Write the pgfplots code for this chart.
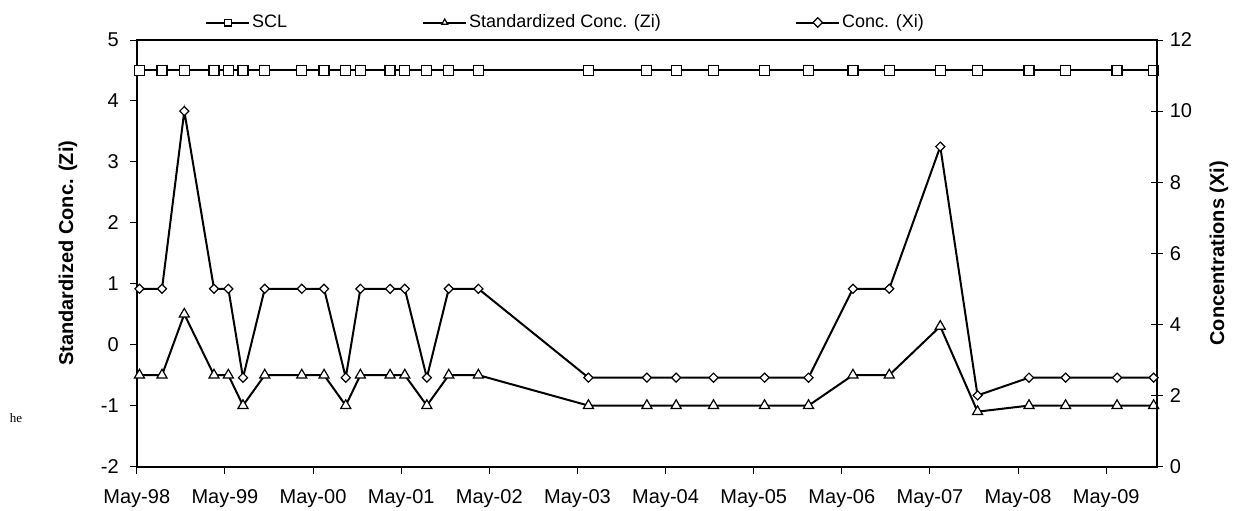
\documentclass[border=0pt]{standalone}
\usepackage{fontspec}
\setmainfont{Liberation Sans}
\newfontfamily\serifx{Liberation Serif}
\usepackage{pgfplots}
\usepackage{pgfplotstable}
\pgfplotsset{compat=1.18}

\pgfplotstableread{
x Zi Xi SCL
0.030 -0.5 5 4.5
0.286 -0.5 5 4.5
0.539 0.5 10 4.5
0.876 -0.5 5 4.5
1.039 -0.5 5 4.5
1.205 -1 2.5 4.5
1.452 -0.5 5 4.5
1.872 -0.5 5 4.5
2.125 -0.5 5 4.5
2.371 -1 2.5 4.5
2.537 -0.5 5 4.5
2.874 -0.5 5 4.5
3.041 -0.5 5 4.5
3.291 -1 2.5 4.5
3.540 -0.5 5 4.5
3.876 -0.5 5 4.5
5.125 -1 2.5 4.5
5.788 -1 2.5 4.5
6.120 -1 2.5 4.5
6.544 -1 2.5 4.5
7.123 -1 2.5 4.5
7.622 -1 2.5 4.5
8.126 -0.5 5 4.5
8.538 -0.5 5 4.5
9.117 0.3 9 4.5
9.540 -1.1 2 4.5
10.124 -1 2.5 4.5
10.539 -1 2.5 4.5
11.123 -1 2.5 4.5
11.538 -1 2.5 4.5
}\datatable

\begin{document}
\begin{tikzpicture}
\path[use as bounding box] (-68.4pt,-21.75pt) rectangle (553.1pt,233.25pt);
\begin{axis}[
  at={(0,0)}, anchor=south west,
  scale only axis, width=510pt, height=213.25pt,
  xmin=0, xmax=11.574, ymin=-2, ymax=5,
  xtick={0,...,11},
  xticklabels={May-98,May-99,May-00,May-01,May-02,May-03,May-04,May-05,May-06,May-07,May-08,May-09},
  ytick={-2,...,5},
  xtick pos=bottom, ytick pos=left, tick align=outside,
  major tick length=3.5pt,
  tick style={black, line width=0.5pt},
  axis line style={line width=1pt},
  ticklabel style={font=\fontsize{10}{12}\selectfont},
  xticklabel style={yshift=-4.5pt},
  yticklabel style={xshift=-2pt},
  /pgf/number format/assume math mode=true,
  ylabel={Standardized Conc. (Zi)},
  ylabel style={at={(axis description cs:-0.0675,0.5)}, anchor=center, font=\fontsize{10}{12}\selectfont\bfseries},
  legend style={at={(axis description cs:0.0667,1.041)}, anchor=west, draw=none, fill=none,
    font=\fontsize{9}{11}\selectfont, inner sep=0pt, /tikz/column sep=0pt, nodes={inner sep=1pt}},
  legend columns=3,
  legend cell align=left,
  legend image code/.code={\draw[mark repeat=2,mark phase=2,mark size=1.7pt] plot coordinates {(0pt,0pt) (10.75pt,0pt) (21.5pt,0pt)};},
]
\addplot[black, line width=1pt, mark=square*, mark size=2.5pt, mark options={fill=white, line width=0.6pt}] table[x=x,y=SCL] {\datatable};
\addlegendentry{\makebox[84pt][l]{SCL}}
\addplot[black, line width=1pt, mark=triangle*, mark size=2.9pt, mark options={fill=white, line width=0.6pt}] table[x=x,y=Zi] {\datatable};
\addlegendentry{\makebox[162pt][l]{Standardized Conc. (Zi)}}
\addlegendimage{black, line width=1pt, mark=square*, mark size=1.6pt, mark options={rotate=45, fill=white, line width=0.6pt}}
\addlegendentry{Conc. (Xi)}
\end{axis}
\begin{axis}[
  at={(0,0)}, anchor=south west,
  scale only axis, width=510pt, height=213.25pt,
  xmin=0, xmax=11.574, ymin=0, ymax=12,
  axis x line=none, axis y line*=right,
  ytick={0,2,...,12},
  tick align=center, major tick length=6pt,
  tick style={black, line width=0.5pt},
  axis line style={line width=1pt},
  ticklabel style={font=\fontsize{10}{12}\selectfont},
  /pgf/number format/assume math mode=true,
  ylabel={Concentrations (Xi)},
  ylabel style={at={(axis description cs:1.061,0.5)}, anchor=center, font=\fontsize{10}{12}\selectfont\bfseries},
]
\addplot[black, line width=1pt, mark=square*, mark size=1.6pt, mark options={rotate=45, fill=white, line width=0.6pt}] table[x=x,y=Xi] {\datatable};
\end{axis}
\node[font=\serifx\fontsize{6.5}{7}\selectfont] at (-60.4pt,24.25pt) {he};
\end{tikzpicture}
\end{document}
